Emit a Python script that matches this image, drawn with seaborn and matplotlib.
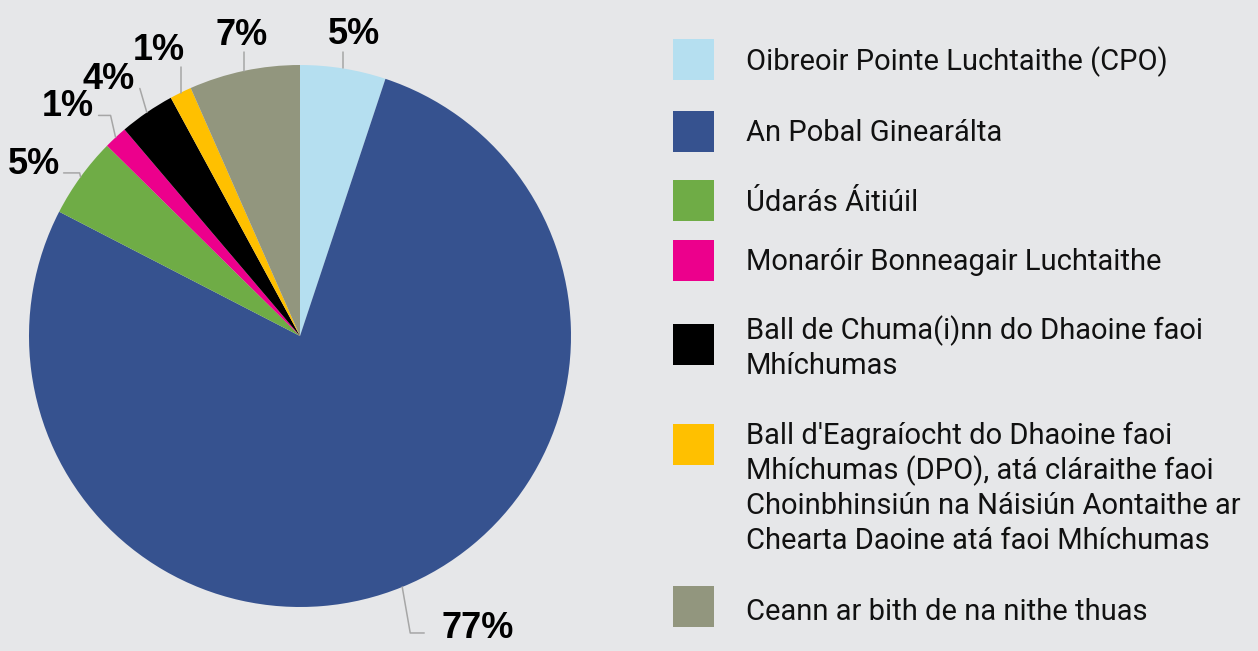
import matplotlib.pyplot as plt
from matplotlib.patches import Rectangle
from matplotlib.lines import Line2D
import numpy as np
import seaborn as sns

# data
categories = [
    "Oibreoir Pointe Luchtaithe (CPO)",
    "An Pobal Ginearálta",
    "Údarás Áitiúil",
    "Monaróir Bonneagair Luchtaithe",
    "Ball de Chuma(i)nn do Dhaoine faoi\nMhíchumas",
    "Ball d'Eagraíocht do Dhaoine faoi\nMhíchumas (DPO), atá cláraithe faoi\n"
    "Choinbhinsiún na Náisiún Aontaithe ar\nChearta Daoine atá faoi Mhíchumas",
    "Ceann ar bith de na nithe thuas",
]
shares = [5.1, 77.4, 4.8, 1.4, 3.3, 1.3, 6.6]
pct_labels = ["5%", "77%", "5%", "1%", "4%", "1%", "7%"]
colors = ["#b5dff0", "#36528f", "#6fac46", "#ec008c", "#000000", "#ffc000", "#92967e"]

BG = "#e6e7e9"
W, H = 1258, 651
CX, CY, R = 300, 336, 271  # pie centre / radius in pixels

# leader line elbows (pixel offsets from the wedge edge, y down) and label offsets
leader_paths = [
    [(0, -16)],
    [(8, 46), (22, 46)],
    [(-1, -4), (-17, -4)],
    [(-5, -22), (-17, -22)],
    [(-7, -24)],
    [(0, -26)],
    [(0, -19)],
]
label_offsets = [(11, -8), (53, 5), (-30, 1), (-31, 1), (-31, 1), (-22, -7), (-3, -7)]

# legend layout in pixels
sq_tops = [39, 111, 180, 240, 324, 424, 586]
first_baselines = [70, 141, 211, 270, 339, 444, 620]
LINE_STEP = 35

sns.set_theme(style="white", rc={"figure.facecolor": BG, "axes.facecolor": BG,
                                 "savefig.facecolor": BG})
plt.rcParams["font.family"] = ["Liberation Sans", "DejaVu Sans"]

fig = plt.figure(figsize=(W / 100, H / 100), dpi=100)
ax = fig.add_axes([(CX - R) / W, (H - CY - R) / H, 2 * R / W, 2 * R / H])
wedges, _ = ax.pie(shares, colors=colors, startangle=90, counterclock=False,
                   radius=1, wedgeprops=dict(linewidth=0))
ax.set_xlim(-1, 1)
ax.set_ylim(-1, 1)

for w, path, off, lab in zip(wedges, leader_paths, label_offsets, pct_labels):
    mid = np.deg2rad((w.theta1 + w.theta2) / 2)
    ex, ey = np.cos(mid), np.sin(mid)
    xs = [ex] + [ex + dx / R for dx, dy in path]
    ys = [ey] + [ey - dy / R for dx, dy in path]
    ax.add_line(Line2D(xs, ys, color="#a6a6a6", lw=1.1, clip_on=False))
    ax.text(xs[-1] + off[0] / R, ys[-1] - off[1] / R, lab, ha="center", va="baseline",
            fontsize=26, fontweight="bold", color="black", clip_on=False)

# legend drawn by hand in pixel space
def fx(px):
    return px / W

def fy(py):
    return 1 - py / H

for cat, col, top, base in zip(categories, colors, sq_tops, first_baselines):
    fig.patches.append(Rectangle((fx(673), fy(top + 41)), 41 / W, 41 / H,
                                 transform=fig.transFigure, color=col, lw=0))
    for i, line in enumerate(cat.split("\n")):
        fig.text(fx(746), fy(base + i * LINE_STEP), line, ha="left", va="baseline",
                 fontsize=21, family=["Roboto", "DejaVu Sans"], color="#111111")

fig.savefig("out.png", dpi=100)
